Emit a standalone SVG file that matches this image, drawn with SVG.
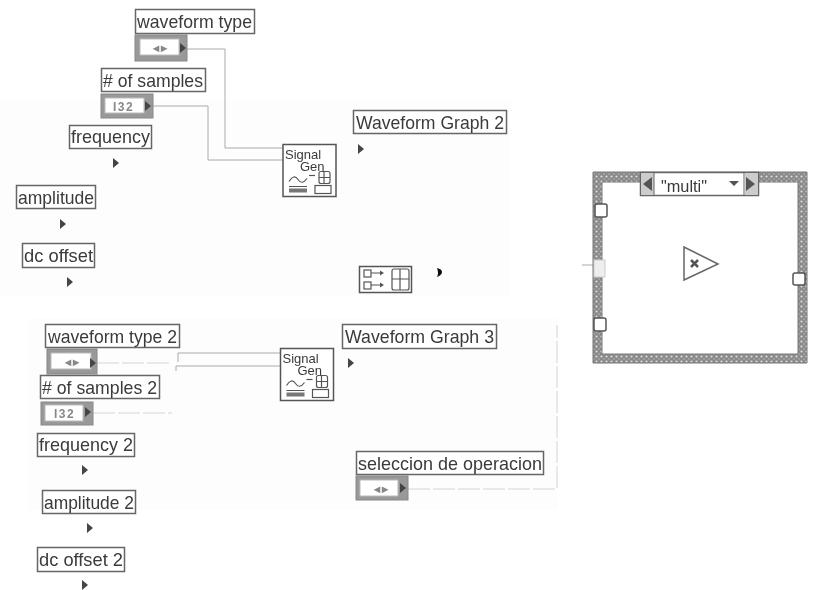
<svg xmlns="http://www.w3.org/2000/svg" width="831" height="590" viewBox="0 0 831 590">
<style>
text{font-family:"Liberation Sans",Arial,sans-serif;fill:#3a3a3a}
.lab{fill:#fff;stroke:#666;stroke-width:1.5}
.t{font-size:19px}
.ctl{fill:#999;stroke:#888;stroke-width:1}
.inner{fill:#fff;stroke:#bbb;stroke-width:1}
.in{font-size:12px;font-weight:bold;fill:#888;letter-spacing:1.500px}
.ar{fill:#444}
.ic{fill:#fff;stroke:#555;stroke-width:1.5}
.s{fill:none;stroke:#555;stroke-width:1.2}
.w{fill:none;stroke:#aaa;stroke-width:1}
.wf{fill:none;stroke:#d4d4d4;stroke-width:1;stroke-dasharray:22 3}
.tun{fill:#fff;stroke:#555;stroke-width:1.5}
</style>
<defs>
<filter id="b" x="-5%" y="-5%" width="110%" height="110%"><feGaussianBlur stdDeviation="0.45"/></filter>
<pattern id="fr" width="5" height="5" patternUnits="userSpaceOnUse"><rect width="5" height="5" fill="#8a8a8a"/><circle cx="1.5" cy="1.5" r="1.1" fill="#ddd"/><circle cx="4" cy="4" r="0.8" fill="#bbb"/></pattern>
<path id="arw" class="ar" d="M-3-5 3 0-3 5Z"/>
<g id="sg"><rect class="ic" width="53" height="52"/><text x="2" y="14" style="font-size:13px">Signal</text><text x="17" y="26" style="font-size:13px">Gen</text><path class="s" stroke-width="2" d="M6 37q5-8 9-2t9-1M6 42h18"/><path class="s" d="M26 31h6"/><rect class="s" x="36" y="27" width="11" height="12" rx="2"/><path class="s" d="M36 33h11M41 27v12"/><rect class="s" x="32" y="41" width="16" height="8"/><rect x="6" y="44" width="18" height="4" fill="#777"/></g>
</defs>
<g filter="url(#b)">
<g id="panels"><rect x="0" y="100" width="510" height="195" fill="#fdfdfd"/><rect x="28" y="318" width="530" height="192" fill="#fdfdfd"/></g>
<g id="connectors">
<path class="w" d="M187 49H225V148H283"/>
<path class="w" d="M153 106H208V160H283"/>
<path class="wf" d="M97 363H172M93 413H172"/>
<path class="w" d="M178 362V353H280M176 371V366H280"/>
<path class="wf" d="M408 489H557V325"/>
<path class="w" d="M582 265H595"/>
</g>
<g id="waveform-type"><rect class="ctl" x="135" y="35" width="52" height="26"/><rect class="inner" x="140" y="39" width="39" height="16"/><text class="in" x="153" y="52">&#9666;&#9656;</text><use href="#arw" x="183" y="48"/><rect class="lab" x="135.500" y="9.500" width="119" height="24"/><text class="t" x="137" y="28" textLength="115" lengthAdjust="spacingAndGlyphs">waveform type</text></g>
<g id="samples"><rect class="ctl" x="101" y="94" width="52" height="24"/><rect class="inner" x="105" y="98" width="39" height="15"/><text class="in" x="113" y="111">I32</text><use href="#arw" x="148" y="106"/><rect class="lab" x="101.500" y="68.500" width="104" height="23"/><text class="t" x="103" y="87" textLength="100" lengthAdjust="spacingAndGlyphs"># of samples</text></g>
<g id="frequency"><rect class="lab" x="69.500" y="125.500" width="82" height="23"/><text class="t" x="71" y="143" textLength="79" lengthAdjust="spacingAndGlyphs">frequency</text><use href="#arw" x="116" y="163"/></g>
<g id="amplitude"><rect class="lab" x="16.500" y="185.500" width="79" height="23"/><text class="t" x="18" y="204" textLength="76" lengthAdjust="spacingAndGlyphs">amplitude</text><use href="#arw" x="63" y="224"/></g>
<g id="dc-offset"><rect class="lab" x="22.500" y="243.500" width="72" height="24"/><text class="t" x="24" y="262" textLength="69" lengthAdjust="spacingAndGlyphs">dc offset</text><use href="#arw" x="70" y="282"/></g>
<g id="signal-gen-1"><use href="#sg" x="283" y="144.500"/></g>
<g id="waveform-graph-2"><rect class="lab" x="353.500" y="110.500" width="153" height="23"/><text class="t" x="356" y="129" textLength="148" lengthAdjust="spacingAndGlyphs">Waveform Graph 2</text><use href="#arw" x="361" y="149"/></g>
<g id="cluster"><rect class="ic" x="359.500" y="266.500" width="52" height="26"/><rect class="s" x="364" y="270" width="7" height="7"/><rect class="s" x="364" y="282" width="7" height="7"/><path class="s" d="M371 273h9M371 285h9"/><path fill="#555" d="M380 270.500l4 2.500-4 2.500ZM380 282.500l4 2.500-4 2.500Z"/><rect class="s" x="392" y="269" width="17" height="21" rx="2"/><path class="s" d="M392 279h17M400 269v21"/><path fill="#111" d="M437 268q5 1 5 4t-5 5q2-4 0-9Z"/></g>
<g id="waveform-type-2"><rect class="ctl" x="47" y="349" width="50" height="25"/><rect class="inner" x="51" y="353" width="40" height="16"/><text class="in" x="65" y="366">&#9666;&#9656;</text><use href="#arw" x="93" y="363"/><rect class="lab" x="45.500" y="324.500" width="134" height="23"/><text class="t" x="48" y="343" textLength="129" lengthAdjust="spacingAndGlyphs">waveform type 2</text></g>
<g id="samples-2"><rect class="ctl" x="41" y="402" width="52" height="23"/><rect class="inner" x="45" y="405" width="38" height="16"/><text class="in" x="54" y="418">I32</text><use href="#arw" x="88" y="412"/><rect class="lab" x="40.500" y="375.500" width="119" height="23"/><text class="t" x="42" y="394" textLength="115" lengthAdjust="spacingAndGlyphs"># of samples 2</text></g>
<g id="frequency-2"><rect class="lab" x="37.500" y="433.500" width="97" height="23"/><text class="t" x="39" y="451" textLength="94" lengthAdjust="spacingAndGlyphs">frequency 2</text><use href="#arw" x="85" y="470"/></g>
<g id="amplitude-2"><rect class="lab" x="42.500" y="490.500" width="93" height="23"/><text class="t" x="44" y="509" textLength="90" lengthAdjust="spacingAndGlyphs">amplitude 2</text><use href="#arw" x="90" y="528"/></g>
<g id="dc-offset-2"><rect class="lab" x="37.500" y="547.500" width="87" height="24"/><text class="t" x="39" y="566" textLength="84" lengthAdjust="spacingAndGlyphs">dc offset 2</text><use href="#arw" x="85" y="585"/></g>
<g id="signal-gen-2"><use href="#sg" x="280.500" y="348.500"/></g>
<g id="waveform-graph-3"><rect class="lab" x="342.500" y="324.500" width="154" height="24"/><text class="t" x="345" y="343" textLength="149" lengthAdjust="spacingAndGlyphs">Waveform Graph 3</text><use href="#arw" x="351" y="363"/></g>
<g id="seleccion"><rect class="ctl" x="356" y="476" width="52" height="24"/><rect class="inner" x="360" y="480" width="38" height="16"/><text class="in" x="374" y="493">&#9666;&#9656;</text><use href="#arw" x="403" y="488"/><rect class="lab" x="356.500" y="451.500" width="187" height="23"/><text class="t" x="358" y="470" textLength="184" lengthAdjust="spacingAndGlyphs">seleccion de operacion</text></g>
<g id="case-structure">
<path fill="url(#fr)" fill-rule="evenodd" stroke="#777" d="M593 172H807V363H593ZM602 182V354H798V182Z"/>
<rect fill="#fff" stroke="#666" stroke-width="1.5" x="640.500" y="172.500" width="118" height="23"/>
<path fill="#ccc" d="M641 173h13v22h-13ZM745 173h13v22h-13Z"/>
<path stroke="#666" fill="none" d="M654 172v23M744 172v23"/>
<path fill="#555" d="M652 177v14l-9-7ZM746 177v14l9-7ZM729 181h10l-5 5Z"/>
<text x="661" y="192" style="font-size:17px" textLength="46" lengthAdjust="spacingAndGlyphs">"multi"</text>
<rect class="tun" x="595" y="204" width="12" height="13" rx="2"/>
<rect class="tun" x="594" y="318" width="12" height="13" rx="2"/>
<rect fill="#eee" stroke="#ccc" x="594" y="260" width="11" height="17"/>
<rect class="tun" x="793" y="273" width="12" height="12" rx="2"/>
</g>
<g id="multiply"><path fill="#fff" stroke="#666" stroke-width="1.5" d="M684 247V280L718 264Z"/><path stroke="#555" stroke-width="2.500" d="M691 260l7 7M698 260l-7 7"/></g>
</g>
</svg>
